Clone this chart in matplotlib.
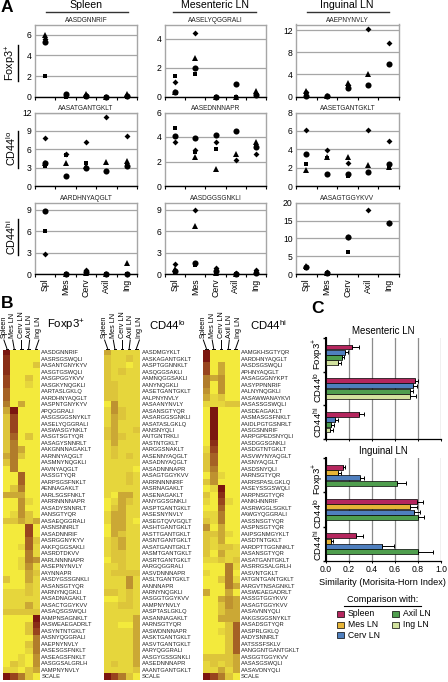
import numpy as np
import matplotlib
matplotlib.use("Agg")
import matplotlib.pyplot as plt
from matplotlib.colors import LinearSegmentedColormap
from matplotlib.lines import Line2D
from matplotlib.patches import Rectangle

plt.rcParams['font.family'] = ['Liberation Sans', 'DejaVu Sans']
plt.rcParams['mathtext.fontset'] = 'custom'
plt.rcParams['mathtext.rm'] = 'Liberation Sans'
plt.rcParams['mathtext.default'] = 'regular'

W, H = 448, 682
organs = ['Spl', 'Mes', 'Cerv', 'Axil', 'Ing']
nan = np.nan

# panel A, each list is [circle, square, triangle, diamond] for the 5 organs
spleen_foxp3 = [[5.3, .3, .1, 0, .1], [2.0, 0, 0, 0, 0], [6.0, .2, .3, 0, .3], [5.6, .2, .2, 0, .1]]
mes_foxp3 = [[.3, 2.0, 0, .9, .1], [1.45, 1.6, 0, 0, .2], [.3, 2.65, 0, 0, .4], [1.05, 4.4, 0, 0, .2]]
ing_foxp3 = [[.2, .1, 1.5, 2.1, 5.9], [.5, 0, 1.8, nan, nan], [1.0, .2, 2.5, 4.1, nan], [.8, .2, 2.1, 12.1, 9.6]]
spleen_lo = [[3.8, 1.6, 3.0, 2.4, 3.2], [3.3, 5.0, 3.7, nan, 3.2], [3.7, 3.8, 3.2, 4.0, 4.1], [7.9, 5.2, 7.2, 11.2, 8.2]]
mes_lo = [[4.1, 3.9, 4.2, 4.5, 3.2], [4.75, 2.8, 3.0, nan, 3.2], [nan, 2.35, 1.4, 2.6, 3.6], [3.6, 2.9, 3.6, 2.1, 2.65]]
ing_lo = [[3.5, 1.3, 1.3, 1.5, 2.4], [2.4, 3.1, 1.05, nan, 2.2], [1.75, 3.2, 3.2, 2.3, 2.1], [6.1, 3.9, 2.5, 6.1, 4.9]]
spleen_hi = [[8.9, 0, .3, 0, 0], [6.1, 0, .1, 0, 0], [nan, 0, .1, 0, 1.6], [2.8, 0, .6, 0, 0]]
mes_hi = [[.4, 1.5, .4, 0, .2], [.3, 1.2, 0, 0, .1], [.7, 6.8, .2, 0, .3], [1.4, 9.0, .8, .1, .5]]
ing_hi = [[2.0, .3, 10.3, nan, 14.3], [1.7, .3, 6.1, nan, nan], [2.2, .3, nan, nan, nan], [2.0, .5, 10.3, 18.0, 14.3]]

# panel B, one digit (0-9) per organ in each row, last row is the scale
foxp3_peptides = ['AASDGNNRIF', 'AASRSGSWQLI', 'AASANTGNYKYV', 'AASGTGSWQLI', 'AASGPGGYKVV', 'AASGKYNQGKLI',
    'AARTASLGKLQ', 'AARDHNYAQGLT', 'AASPNTGNYKYV', 'APQGGRALI', 'AASGSGGSNYKLT', 'AASELYQGGRALI',
    'AASWASGYNKLT', 'AASGTSGTYQR', 'AASAGYSNNRLT', 'AAKGNNNAGAKLT', 'AARNNYAQGLT', 'AASMNYNQGKLI',
    'AAVNYAQGLT', 'AASSGTYQR', 'AARPSGSFNKLT', 'AENNAGAKLT', 'AARLSGSFNKLT', 'AARRNNNNAPR',
    'AASADYSNNRLT', 'AANSGTYQR', 'AASAEQGGRALI', 'AASNSNNRLT', 'AASADNNRIF', 'AASRGGNYKYV',
    'AAKFQGGSAKLI', 'AASRDTDKVV', 'AARLNNNNAPR', 'AASEPNYNVLY', 'AAYNNAPR', 'AASDYGSSGNKLI',
    'AASANSGTYQR', 'AARNYNQGKLI', 'AASADNAGAKLT', 'AASACTGGYKVV', 'AASAQSGSWQLI', 'AAMPNSAGNKLT',
    'AASWEAEGADRLT', 'AASYNTNTGKLT', 'AASNYQGGRALI', 'AAEPNYNVLY', 'AASESGSFNKLT', 'AASEAGSFNKLT',
    'AASGGSALGRLH', 'AAMPNYNVLY', 'SCALE']
foxp3_levels = ['90000', '80000', '80002', '80000', '70020', '70010', '60000', '60000', '50300', '39000',
    '27000', '27000', '27000', '26020', '25000', '25300', '35200', '25000', '05000', '00600',
    '00600', '02500', '33300', '00410', '00400', '01420', '22323', '00070', '00070', '00062',
    '00161', '00051', '00154', '00141', '00032', '20031', '00021', '11121', '11111', '11131',
    '22222', '00009', '00028', '00027', '00005', '00025', '00015', '00104', '02104', '11023',
    '97520']

lo_peptides = ['AASDMGYKLT', 'AASKAGANTGKLT', 'AASPTGGNNKLT', 'AASQGGSAKLI', 'AAMNQGGSAKLI', 'AANYNQGKLI',
    'AASETGANTGKLT', 'AALPNYNVLY', 'AASAANYNVLY', 'AASANSGTYQR', 'AASARGGSGNKLI', 'AASATASLGKLQ',
    'AANSNYQLI', 'AAITGNTRKLI', 'AASTNTGKLT', 'AARGGSNAKLT', 'AASENNYAQGLT', 'AASADNYAQGLT',
    'AASADNNNAPR', 'AASAGTGGYKVV', 'AARRNNNNRIF', 'AASRNAGAKLT', 'AASENAGAKLT', 'AANYGGSGNKLI',
    'AASPTGANTGKLT', 'AASESNYNVLY', 'AASEGTQVVGQLT', 'AASHTGANTGKLT', 'AASTTGANTGKLT', 'AASNTGANTGKLT',
    'AASATGANTGKLT', 'AASMTGANTGKLT', 'AASRTGANTGKLT', 'AARGQGGRALI', 'AASVDNNNAPR', 'AASLTGANTGKLT',
    'AANNNAPR', 'AARNYNQGKLI', 'AASGGTGGYKVV', 'AAMPNYNVLY', 'AASPTASLGKLQ', 'AASANNAGAKLT',
    'AARNSGTYQR', 'AASWDNNNAPR', 'AASKTGANTGKLT', 'AASVTGANTGKLT', 'AARYQGGRALI', 'AASGYGSSGNKLI',
    'AASEDNNNAPR', 'AAANTGANTGKLT', 'SCALE']
lo_levels = ['31111', '21121', '21101', '21211', '21111', '22111', '22111', '22111', '04111', '14211',
    '13211', '13111', '23112', '23211', '13111', '12111', '12121', '11111', '11110', '11121',
    '11121', '11111', '10331', '01321', '02311', '13311', '13310', '03311', '03211', '12311',
    '12311', '12211', '02211', '11211', '12222', '11141', '11141', '22121', '00121', '11221',
    '11111', '11113', '11003', '11113', '11113', '11113', '11113', '11113', '12113', '11112',
    '97520']

hi_peptides = ['AAMGKHSGTYQR', 'AARDHNYAQGLT', 'AASDSGSWQLI', 'APHNYAQGLT', 'AASAGGGNYKPT', 'AASYPPNNRIF',
    'AALNYNQGKLI', 'AASAWWANAYKVI', 'AASASSGSWQLI', 'AASDEAGAKLT', 'AASMASGSFNKLT', 'AAIDLPGTGSNRLT',
    'AASGSNNRIF', 'AARPGPEDSNYQLI', 'AASDGGSGNKLI', 'AASDGTNTGKLT', 'AASVWYNYAQGLT', 'AASNYAQGLT',
    'AASDSNYQLI', 'AARNSGTYQR', 'AARRSPASLGKLQ', 'AASEYSSGSWQLI', 'AARPNSGTYQR', 'AANKHNNRIF',
    'AASRWGGLSGKLT', 'AAWGYQGGRALI', 'AASSNSGTYQR', 'AASPNSGTYQR', 'AAIPSGNMGYKLT', 'AASDTNTGKLT',
    'AARDPTTGGNNKLT', 'AASANSGTYQR', 'AASATGANTGKLT', 'AASRRGSALGRLH', 'AASVNTGKLT', 'AATGNTGANTGKLT',
    'AARGVTNSAGNKLT', 'AASWEAEGADRLT', 'AASSGTGGYKVV', 'AASAGTGGYKVV', 'AASAVNNYQLI', 'AAKGSGGSNYKLT',
    'AASADSGTYQR', 'AASPRLGKLQ', 'AADYSNNRLT', 'AATSSSFSKLV', 'AANGGNTGANTGKLT', 'AASGGTGGYKVV',
    'AASASGSWQLI', 'AASAVDNYQLI', 'SCALE']
hi_levels = ['90000', '90000', '70300', '70300', '53400', '50400', '40400', '31200', '11122', '09000',
    '09000', '09000', '09000', '09000', '08000', '17000', '26000', '26000', '25000', '04100',
    '24000', '01900', '20800', '10710', '00600', '11500', '21500', '40300', '22310', '21300',
    '21221', '20311', '11212', '00051', '10050', '00251', '00053', '30030', '00343', '00243',
    '00233', '00333', '00026', '00126', '00026', '00026', '00026', '22223', '12123', '11313',
    '97520']

# panel C
groups = ['Foxp3$^{+}$', 'CD44$^{lo}$', 'CD44$^{hi}$']
mes_series = ['Spleen', 'Cerv LN', 'Axil LN', 'Ing LN']
mes_means = [[.225, .775, .29], [.17, .755, .08], [.145, .735, .045], [.11, .735, .04]]
mes_errs = [[.065, .025, .045], [.02, .035, .025], [.015, .025, .025], [.02, .045, .02]]
ing_series = ['Spleen', 'Mes LN', 'Cerv LN', 'Axil LN']
ing_means = [[.15, .79, .26], [.11, .735, .045], [.30, .77, .49], [.62, .80, .80]]
ing_errs = [[.02, .05, .06], [.02, .055, .02], [.035, .05, .105], [.08, .05, .13]]

series_colors = {'Spleen': '#B5265E', 'Mes LN': '#E6B437', 'Cerv LN': '#4F7FBE',
                 'Axil LN': '#4F9E4E', 'Ing LN': '#D2E29E'}
heat_cmap = LinearSegmentedColormap.from_list('heat', [
    (0.0, '#F3EA3C'), (1/9, '#E6D63C'), (2/9, '#DDC53A'), (3/9, '#CBA835'), (5/9, '#B27D2C'),
    (7/9, '#99451F'), (1.0, '#7B1610')])


def add_axes_px(x0, y0, x1, y1):
    return fig.add_axes([x0 / W, 1 - y1 / H, (x1 - x0) / W, (y1 - y0) / H])


def fig_text(x, y, s, **kw):
    kw.setdefault('ha', 'center')
    kw.setdefault('va', 'center')
    fig.text(x / W, 1 - y / H, s, **kw)


def fig_line(x0, y0, x1, y1, lw=1.0, color='black'):
    fig.add_artist(Line2D([x0 / W, x1 / W], [1 - y0 / H, 1 - y1 / H], lw=lw, color=color))


fig = plt.figure(figsize=(W / 100, H / 100), dpi=100)

############################################################################
# panel A
############################################################################
col_x = [(35, 137), (165, 266), (296, 399)]
row_y = [(24.5, 96.7), (112.5, 186), (202.7, 274)]
marker_styles = [('o', 4.4), ('s', 3.5), ('^', 3.9), ('D', 3.0)]

panels = [
    [spleen_foxp3, 'AASDGNNRIF', 7, [0, 2, 4, 6]],
    [mes_foxp3, 'AASELYQGGRALI', 5, [0, 2, 4]],
    [ing_foxp3, 'AAEPNYNVLY', 13, [0, 4, 8, 12]],
    [spleen_lo, 'AASATGANTGKLT', 12, [0, 3, 6, 9, 12]],
    [mes_lo, 'AASEDNNNAPR', 6, [0, 2, 4, 6]],
    [ing_lo, 'AASETGANTGKLT', 8, [0, 2, 4, 6, 8]],
    [spleen_hi, 'AARDHNYAQGLT', 10, [0, 3, 6, 9]],
    [mes_hi, 'AASDGGSGNKLI', 10, [0, 3, 6, 9]],
    [ing_hi, 'AASAGTGGYKVV', 20, [0, 5, 10, 15, 20]],
]

for i, (vals, peptide, ymax, yticks) in enumerate(panels):
    r, c = i // 3, i % 3
    ax = add_axes_px(col_x[c][0], row_y[r][0], col_x[c][1], row_y[r][1])
    xs = np.arange(5) + 0.5
    for (m, ms), v in zip(marker_styles, vals):
        ax.plot(xs, v, ls='none', marker=m, ms=ms, color='black', mew=0, clip_on=False, zorder=3)
    ax.set_xlim(0, 5)
    ax.set_ylim(0, ymax)
    ax.set_yticks(yticks)
    ax.set_xticks(np.arange(6))
    ax.set_xticklabels([])
    ax.grid(axis='y', color='#a6a6a6', lw=0.9)
    ax.set_axisbelow(True)
    for s in ['top', 'left', 'right']:
        ax.spines[s].set_color('#a6a6a6')
        ax.spines[s].set_linewidth(1.0)
    ax.spines['bottom'].set_linewidth(1.0)
    ax.tick_params(axis='y', length=0, labelsize=6.2, pad=2.5)
    ax.tick_params(axis='x', length=2, width=0.8, pad=1)
    fig_text((col_x[c][0] + col_x[c][1]) / 2, row_y[r][0] - 4.5, peptide, fontsize=4.7, color='#222222')
    if r == 2:
        for x, name in zip(xs, organs):
            ax.text(x, -0.065, name, transform=ax.get_xaxis_transform(), rotation=90,
                    ha='center', va='top', fontsize=6.3)

fig_text(1, 7, 'A', fontsize=12.5, fontweight='bold', ha='left')
for name, cx, x0, x1 in [('Spleen', 86, 45.7, 128), ('Mesenteric LN', 215, 173, 256), ('Inguinal LN', 347, 306.7, 389)]:
    fig_text(cx, 4.8, name, fontsize=7.6)
    fig_line(x0, 11.7, x1, 11.7, lw=1.0, color='#333333')

for label, cy, y0, y1 in [('Foxp3$^{+}$', 63, 45, 81), ('CD44$^{lo}$', 148, 131, 168), ('CD44$^{hi}$', 237, 219, 255)]:
    fig_text(11.5, cy, label, fontsize=7.8, rotation=90)
    fig_line(18.3, y0, 18.3, y1, lw=1.0)

############################################################################
# panel B
############################################################################
heat_panels = [
    (3.3, 39.5, foxp3_peptides, foxp3_levels, 'Foxp3$^{+}$', 46.5),
    (104, 140, lo_peptides, lo_levels, 'CD44$^{lo}$', 149),
    (202.7, 239.3, hi_peptides, hi_levels, 'CD44$^{hi}$', 250),
]
header_names = ['Spleen', 'Mes LN', 'Cerv LN', 'Axil LN', 'Ing LN']
heat_top, heat_bottom = 349.5, 680
spread = [-3, -1.5, 0, 1, 3]

for x0, x1, peptides, levels, title, title_x in heat_panels:
    ax = add_axes_px(x0, heat_top, x1, heat_bottom)
    grid = np.array([[int(ch) for ch in row] for row in levels])
    ax.imshow(grid, cmap=heat_cmap, vmin=0, vmax=9, aspect='auto', interpolation='nearest')
    ax.axis('off')
    row_h = (heat_bottom - heat_top) / len(peptides)
    for j, p in enumerate(peptides):
        fig_text(x1 + 1.8, heat_top + row_h * (j + 0.5), p, fontsize=4.15, ha='left', color='#222222')
    cw = (x1 - x0) / 5
    for k, name in enumerate(header_names):
        cx = x0 + cw * (k + 0.5)
        top_x = cx + spread[k]
        fig_text(top_x, 338, name, fontsize=5.2, rotation=90, ha='center', va='bottom')
        fig_line(top_x, 340, cx, 348.5, lw=0.7)
        fig_line(cx - 1.2, 348.5, cx + 1.2, 348.5, lw=0.7)
    fig_text(title_x, 325, title, fontsize=8.2, ha='left')

fig_text(1, 303.5, 'B', fontsize=12.5, fontweight='bold', ha='left')

############################################################################
# panel C
############################################################################
fig_text(311, 308, 'C', fontsize=12.5, fontweight='bold', ha='left')
bar_panels = [
    ('Mesenteric LN', 338, 439, mes_series, mes_means, mes_errs, [354, 387, 422]),
    ('Inguinal LN', 458, 561, ing_series, ing_means, ing_errs, [479, 513, 545]),
]
bar_h = 0.155
for title, y0, y1, series, means, errs, label_y in bar_panels:
    ax = add_axes_px(325.7, y0, 441, y1)
    ypos = np.arange(3) + 0.5
    for k, name in enumerate(series):
        yy = ypos + (k - 1.5) * bar_h
        ax.barh(yy, means[k], height=bar_h * 0.92, color=series_colors[name], edgecolor='black', linewidth=0.5,
                zorder=3, xerr=[np.zeros(3), errs[k]], error_kw=dict(ecolor='black', elinewidth=0.7, capsize=1.4, capthick=0.7, zorder=4))
    ax.set_xlim(0, 1)
    ax.set_ylim(3, 0)
    ax.set_yticks(np.arange(4))
    ax.set_yticklabels([])
    ax.set_xticks(np.arange(0, 1.01, 0.2))
    ax.grid(axis='x', color='#8c8c8c', lw=0.9)
    ax.set_axisbelow(True)
    for s in ['top', 'right']:
        ax.spines[s].set_visible(False)
    ax.spines['left'].set_linewidth(1.5)
    ax.spines['bottom'].set_linewidth(0.9)
    ax.tick_params(axis='y', length=2, width=1.0)
    ax.tick_params(axis='x', length=1.5, width=0.7, labelsize=6.2, pad=1.5)
    if title == 'Inguinal LN':
        ax.set_xticklabels(['0.0', '0.2', '0.4', '0.6', '0.8', '1.0'])
        ax.set_xlabel('Similarity (Morisita-Horn Index)', fontsize=6.6, labelpad=2.5, x=0.49)
    else:
        ax.set_xticklabels([])
    fig_text(383, y0 - 7.5, title, fontsize=7)
    for label, cy in zip(groups, label_y):
        fig_text(317.8, cy, label, fontsize=6.8, rotation=90)

fig_text(383, 599, 'Comparison with:', fontsize=6.6)
fig_line(344, 606, 421, 606, lw=0.8)
legend_items = [('Spleen', 337, 614), ('Mes LN', 337, 624.7), ('Cerv LN', 337, 635), ('Axil LN', 392, 614), ('Ing LN', 392, 624.7)]
for name, lx, ly in legend_items:
    fig.add_artist(Rectangle((lx / W, 1 - (ly + 3) / H), 6.5 / W, 6 / H, transform=fig.transFigure,
                             facecolor=series_colors[name], edgecolor='black', linewidth=0.5))
    fig_text(lx + 10.5, ly, name, fontsize=6.2, ha='left')

fig.savefig('out.png', dpi=100)
